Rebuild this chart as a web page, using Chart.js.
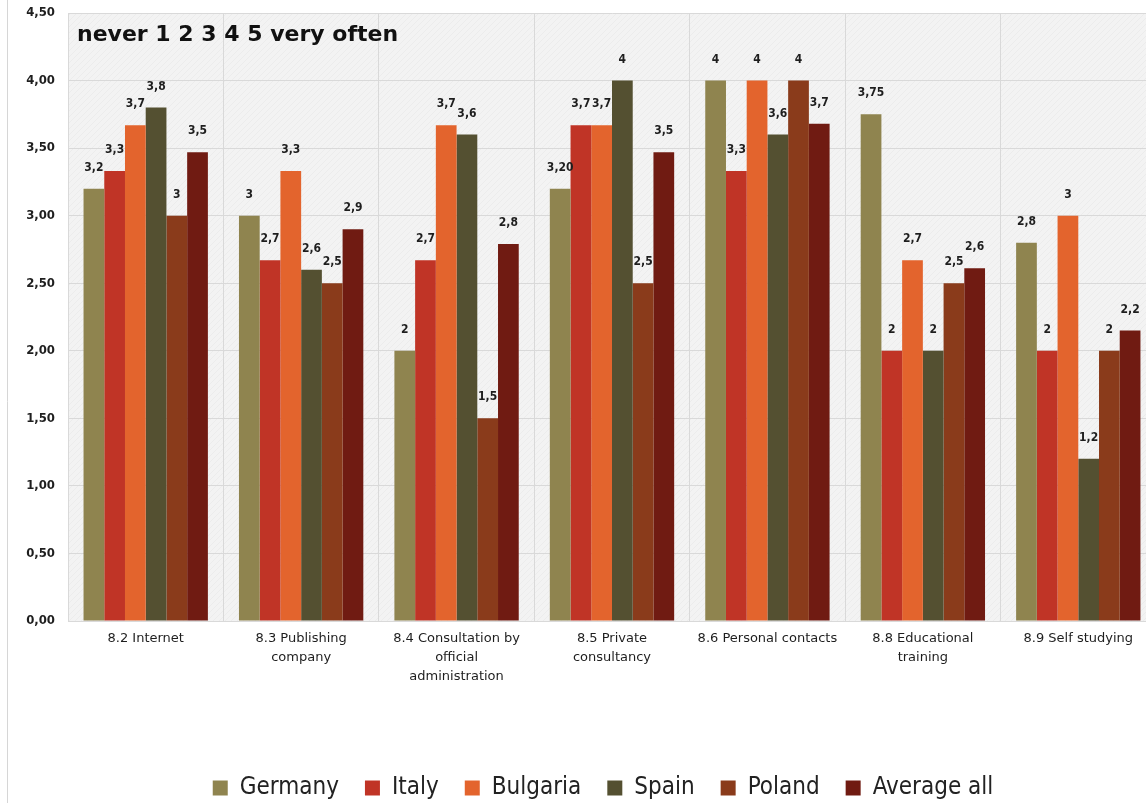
<!DOCTYPE html>
<html>
<head>
<meta charset="utf-8">
<script src="https://cdn.jsdelivr.net/npm/chart.js@4.4.0/dist/chart.umd.min.js"></script>
<style>
  html, body { margin: 0; padding: 0; background: #fff; overflow: hidden; }
  #wrap { position: absolute; left: 0; top: 0; width: 1160px; height: 803px; }
</style>
</head>
<body>
<div id="wrap"><canvas id="barChart" width="1160" height="803"></canvas></div>
<script>
var categorias = [
  ["8.2 Internet"],
  ["8.3 Publishing", "company"],
  ["8.4 Consultation by", "official", "administration"],
  ["8.5 Private", "consultancy"],
  ["8.6 Personal contacts"],
  ["8.8 Educational", "training"],
  ["8.9 Self studying"]
];

var germany  = [3.2, 3.0, 2.0, 3.2, 4.0, 3.75, 2.8];
var italy    = [3.33, 2.67, 2.67, 3.67, 3.33, 2.0, 2.0];
var bulgaria = [3.67, 3.33, 3.67, 3.67, 4.0, 2.67, 3.0];
var spain    = [3.8, 2.6, 3.6, 4.0, 3.6, 2.0, 1.2];
var poland   = [3.0, 2.5, 1.5, 2.5, 4.0, 2.5, 2.0];
var average  = [3.47, 2.9, 2.79, 3.47, 3.68, 2.61, 2.15];

// textos de las etiquetas tal como salen en el original
var germanyTxt  = ["3,2", "3", "2", "3,20", "4", "3,75", "2,8"];
var italyTxt    = ["3,3", "2,7", "2,7", "3,7", "3,3", "2", "2"];
var bulgariaTxt = ["3,7", "3,3", "3,7", "3,7", "4", "2,7", "3"];
var spainTxt    = ["3,8", "2,6", "3,6", "4", "3,6", "2", "1,2"];
var polandTxt   = ["3", "2,5", "1,5", "2,5", "4", "2,5", "2"];
var averageTxt  = ["3,5", "2,9", "2,8", "3,5", "3,7", "2,6", "2,2"];

var yTicks = [0, 0.5, 1, 1.5, 2, 2.5, 3, 3.5, 4, 4.5];

var titulo = "never 1 2 3 4 5 very often";

function serie(label, data, color, txt) {
  return {
    label: label,
    data: data,
    txt: txt,
    backgroundColor: color,
    borderWidth: 0,
    barPercentage: 1.0,
    categoryPercentage: 0.8
  };
}

var barData = {
  labels: categorias,
  datasets: [
    serie("Germany", germany, "#8f844f", germanyTxt),
    serie("Italy", italy, "#c03426", italyTxt),
    serie("Bulgaria", bulgaria, "#e3642d", bulgariaTxt),
    serie("Spain", spain, "#545031", spainTxt),
    serie("Poland", poland, "#8a3b1b", polandTxt),
    serie("Average all", average, "#701b12", averageTxt)
  ]
};

// fondo rayado del area de la grafica + linea del marco
var fondo = {
  id: 'fondo',
  beforeDraw: function(chart) {
    var ctx = chart.ctx, a = chart.chartArea;
    var p = document.createElement('canvas');
    p.width = 6; p.height = 6;
    var pc = p.getContext('2d');
    pc.fillStyle = '#f3f3f3';
    pc.fillRect(0, 0, 6, 6);
    pc.strokeStyle = '#ececec';
    pc.lineWidth = 1;
    pc.beginPath();
    pc.moveTo(0, 6); pc.lineTo(6, 0);
    pc.stroke();
    ctx.save();
    ctx.fillStyle = ctx.createPattern(p, 'repeat');
    ctx.fillRect(a.left, a.top, a.right - a.left, a.bottom - a.top);
    ctx.strokeStyle = '#d6d6d6';
    ctx.lineWidth = 1;
    ctx.beginPath();
    ctx.moveTo(7.5, 0); ctx.lineTo(7.5, chart.height);
    ctx.stroke();
    ctx.restore();
  }
};

var etiquetas = {
  id: 'etiquetas',
  afterDatasetsDraw: function(chart) {
    var ctx = chart.ctx, a = chart.chartArea;
    ctx.save();
    ctx.fillStyle = '#1e1e1e';
    ctx.font = 'bold 12px "DejaVu Sans Condensed", "DejaVu Sans"';
    ctx.textAlign = 'center';
    ctx.textBaseline = 'alphabetic';
    chart.data.datasets.forEach(function(ds, i) {
      var meta = chart.getDatasetMeta(i);
      meta.data.forEach(function(bar, j) {
        ctx.fillText(ds.txt[j], bar.x, bar.y - 18);
      });
    });
    // titulo dentro del area
    ctx.textAlign = 'left';
    ctx.fillStyle = '#111';
    ctx.font = 'bold 22px "DejaVu Sans"';
    ctx.fillText(titulo, a.left + 9, a.top + 28);
    ctx.restore();
  }
};

var moverLeyenda = {
  id: 'moverLeyenda',
  afterLayout: function(chart) {
    var l = chart.legend;
    l.left += 25; l.right += 25;
    l.top += 7; l.bottom += 7;
  }
};

var barOptions = {
  responsive: false,
  animation: false,
  layout: { padding: { top: 13, right: 4, bottom: 0, left: 0 } },
  plugins: {
    legend: {
      position: 'bottom',
      labels: {
        boxWidth: 15,
        boxHeight: 15,
        padding: 26,
        color: '#222',
        font: { family: '"DejaVu Sans Condensed", "DejaVu Sans"', size: 24 }
      }
    },
    tooltip: { enabled: false }
  },
  scales: {
    x: {
      grid: { color: '#d9d9d9', drawTicks: false, offset: true },
      border: { color: '#d9d9d9' },
      ticks: {
        padding: 8,
        color: '#1e1e1e',
        maxRotation: 0,
        autoSkip: false,
        font: { family: '"DejaVu Sans"', size: 13, lineHeight: 1.45 }
      },
      afterFit: function(scale) { scale.height = 122; }
    },
    y: {
      min: 0,
      max: 4.5,
      afterBuildTicks: function(scale) {
        scale.ticks = yTicks.map(function(v) { return { value: v }; });
      },
      grid: { color: '#d9d9d9', drawTicks: false },
      border: { color: '#d9d9d9' },
      ticks: {
        padding: 13,
        color: '#1e1e1e',
        font: { family: '"DejaVu Sans Condensed", "DejaVu Sans"', size: 13, weight: 'bold' },
        callback: function(v) { return v.toFixed(2).replace('.', ','); }
      },
      afterFit: function(scale) {
        scale.width = 68;
        scale.paddingTop = 0;
        scale.paddingBottom = 0;
      }
    }
  }
};

var ctx2 = document.getElementById("barChart").getContext("2d");
var myBarChart = new Chart(ctx2, { type: 'bar', data: barData, options: barOptions, plugins: [fondo, etiquetas, moverLeyenda] });
</script>
</body>
</html>
